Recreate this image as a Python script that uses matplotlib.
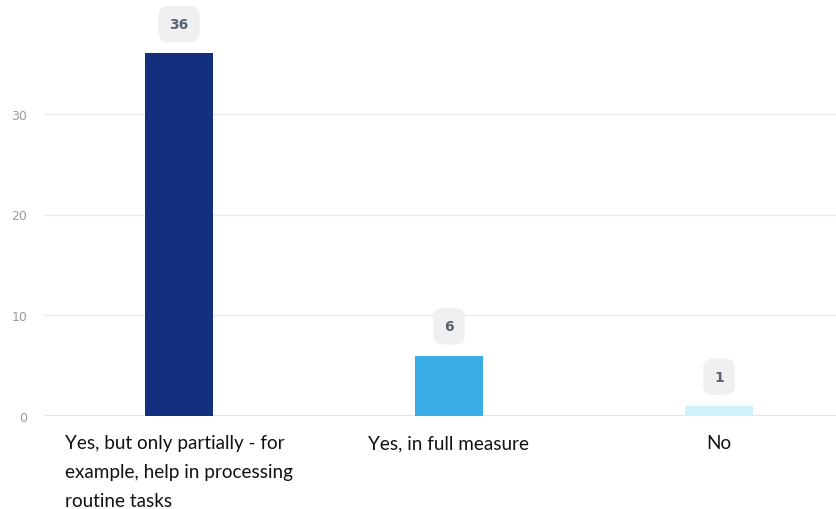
import matplotlib
matplotlib.use("Agg")
import matplotlib.pyplot as plt

categories = ["Yes, but only partially - for\nexample, help in processing\nroutine tasks",
              "Yes, in full measure",
              "No"]
values = [36, 6, 1]
colors = ["#13307f", "#3badE6", "#d0f1f9"]
yticks = [0, 10, 20, 30]

fig = plt.figure(figsize=(8.36, 5.10), dpi=100)
# axes spans past the right edge, like the cropped original
ax = fig.add_axes([44/836, 93/510, 810/836, 403/510])
ax.set_xlim(-0.5, 2.5)
ax.set_ylim(0, 40)

x = list(range(len(values)))
ax.bar(x, values, width=68/270, color=colors, zorder=3)

# value labels in rounded grey boxes
for xi, v in zip(x, values):
    ax.annotate(str(v), (xi, v), xytext=(0, 21), textcoords="offset points",
                ha="center", va="center", fontsize=10, fontweight="bold",
                color="#5b6372", family="DejaVu Sans",
                bbox=dict(boxstyle="round,pad=0.8,rounding_size=0.7",
                          fc="#eff0f1", ec="none"), zorder=4)

ax.set_yticks(yticks)
ax.set_yticklabels([str(t) for t in yticks], fontsize=9, color="#9a9a9a")
ax.grid(axis="y", color="#ebebeb", linewidth=1, zorder=0)
ax.axhline(0, color="#e1e3ef", linewidth=1.5, zorder=2)

ax.set_xticks(x)
ax.set_xticklabels(categories, fontsize=13.6, family="Lato", color="#111111",
                   multialignment="left", linespacing=1.85, va="top")
ax.tick_params(axis="both", length=0)
ax.tick_params(axis="x", pad=13)
ax.tick_params(axis="y", pad=12)

for s in ax.spines.values():
    s.set_visible(False)

fig.savefig("out.png", dpi=100)
